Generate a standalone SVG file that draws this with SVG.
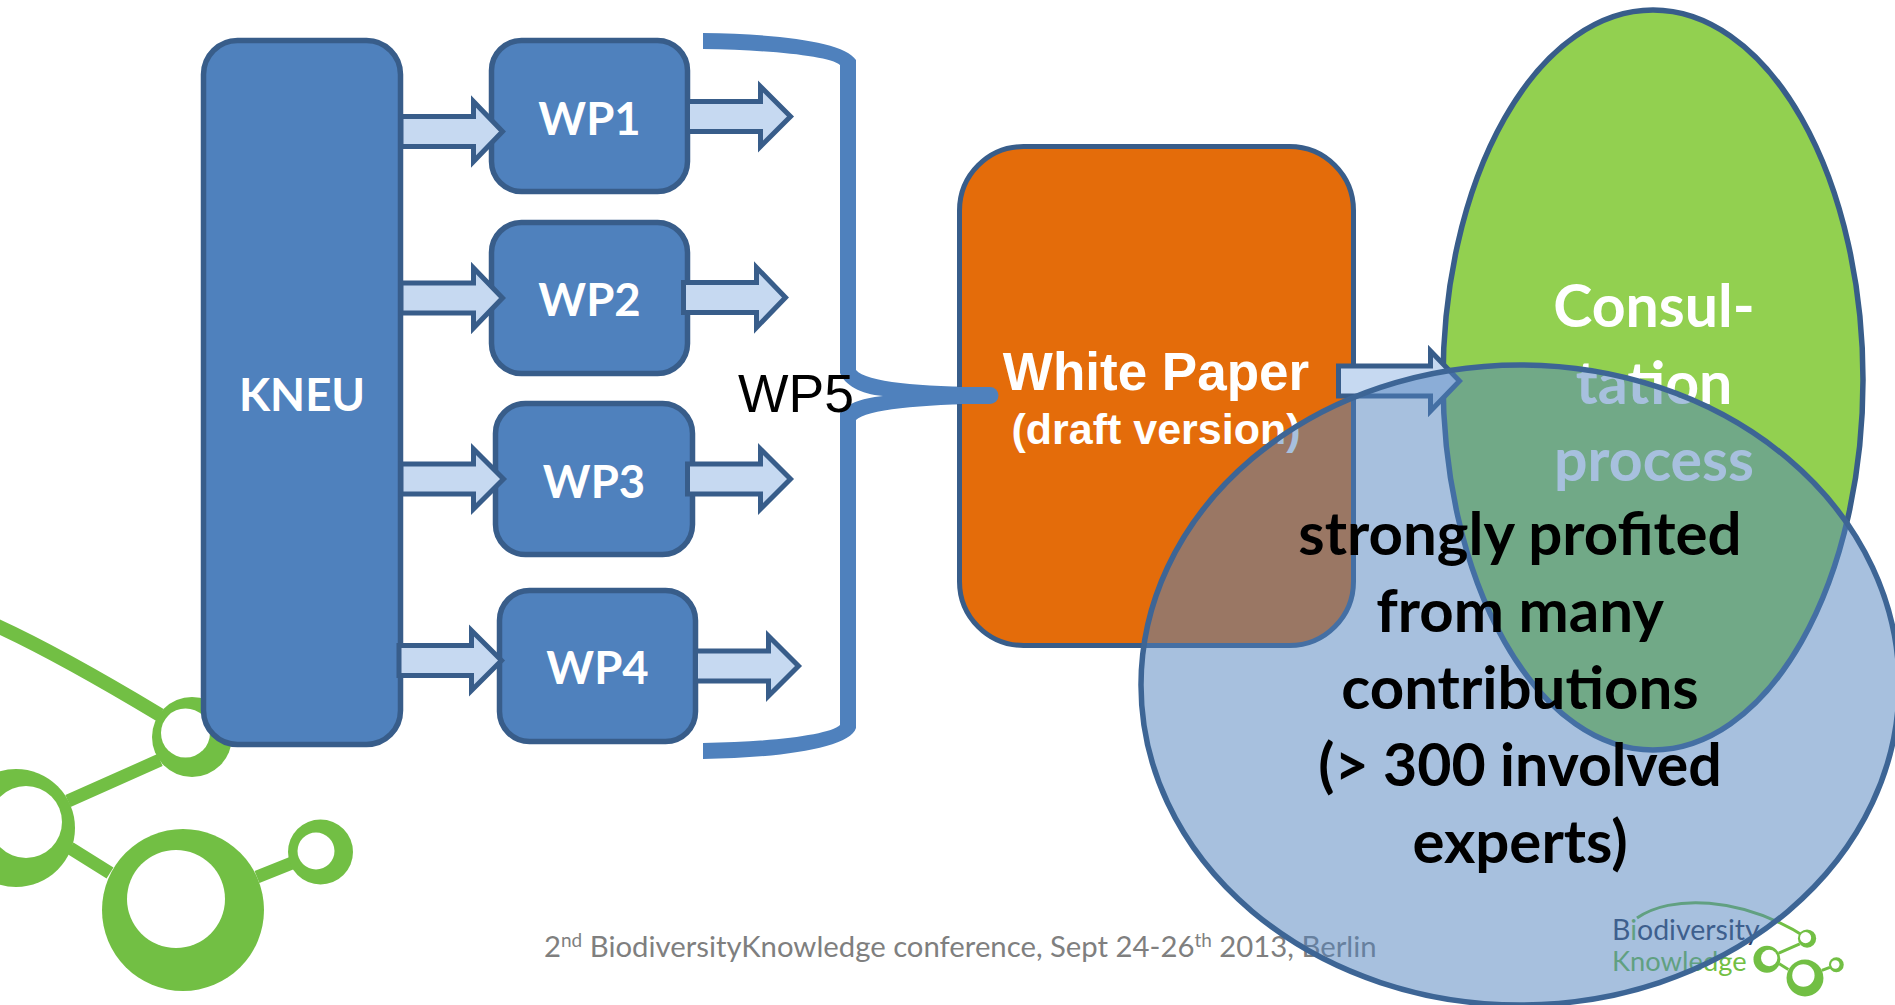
<svg xmlns="http://www.w3.org/2000/svg" xmlns:xlink="http://www.w3.org/1999/xlink" width="1895" height="1005" viewBox="0 0 1895 1005">
<style>
.box{fill:#4f81bd;stroke:#385d8a;stroke-width:5.500}
.arrow{fill:#c6d9f1;stroke:#385d8a;stroke-width:5;stroke-linejoin:miter;stroke-miterlimit:10}
.lb{font-family:"Lato","Open Sans",sans-serif;font-weight:700;font-size:45.500px;fill:#fff;text-anchor:middle}
.cons{font-size:59px}
.blk{font-family:"Lato","Open Sans",sans-serif;font-weight:700;font-size:60px;fill:#000;text-anchor:middle}
.ar{font-family:"Liberation Sans",Arial,sans-serif;font-weight:700;fill:#fff;text-anchor:middle}
.foot{font-family:"Lato","Open Sans",sans-serif;font-size:29.300px;fill:#7f7f7f}
.lg{fill:#72bf44}
.ln{stroke:#72bf44;fill:none}
.hole{fill:#fff}
.bk{font-family:"Lato","Open Sans",sans-serif;font-size:28.500px}
</style>
<defs>
<g id="logoMark">
<path class="ln" stroke-width="13" d="M68 801L160 760M70 848L110 873M257 877L292 863"/>
<circle class="lg" cx="192" cy="737" r="40"/><circle class="hole" cx="185.500" cy="733" r="24.500"/>
<circle class="lg" cx="16" cy="828" r="59"/><circle class="hole" cx="26" cy="822" r="36"/>
<circle class="lg" cx="183" cy="910" r="81"/><circle class="hole" cx="176" cy="899" r="49"/>
<circle class="lg" cx="320.500" cy="852" r="32.500"/><circle class="hole" cx="316" cy="851" r="18.500"/>
</g>
</defs>
<rect width="1895" height="1005" fill="#fff"/>
<g id="logo-large">
<path class="ln" stroke-width="14" d="M-5 625C50 650 110 685 160 715"/>
<use xlink:href="#logoMark" href="#logoMark"/>
</g>
<g id="footer"><text class="foot" x="544" y="957">2<tspan font-size="19" dy="-10">nd</tspan><tspan dy="10"> BiodiversityKnowledge conference, Sept 24-26</tspan><tspan font-size="19" dy="-10">th</tspan><tspan dy="10"> 2013, Berlin</tspan></text></g>
<g id="logo-small">
<path class="ln" stroke-width="3" d="M1637 918C1670 895 1740 895 1807 938"/>
<use xlink:href="#logoMark" href="#logoMark" transform="translate(1763.276 770.520) scale(.228)"/>
<text class="bk" x="1612" y="940" fill="#2d3d5d">B<tspan fill="#72bf44">i</tspan>odiversity</text>
<text class="bk" x="1612" y="971" fill="#72bf44" style="font-size:27.300px">Knowledge</text>
</g>
<g id="KNEU"><rect class="box" x="203.500" y="40.500" width="197" height="704" rx="34"/><text class="lb" x="302" y="411">KNEU</text></g>
<g id="WP1"><rect class="box" x="491.500" y="40.500" width="196" height="151" rx="30"/><text class="lb" x="589.500" y="135">WP1</text></g>
<g id="WP2"><rect class="box" x="491.500" y="222.500" width="196" height="151" rx="30"/><text class="lb" x="589.500" y="316">WP2</text></g>
<g id="WP3"><rect class="box" x="495.500" y="403.500" width="197" height="151" rx="30"/><text class="lb" x="594" y="498">WP3</text></g>
<g id="WP4"><rect class="box" x="499.500" y="590.500" width="196" height="151" rx="30"/><text class="lb" x="597.500" y="684">WP4</text></g>
<g id="WP5">
<path fill="#4f81bd" d="M703 33C780 34 845 42 856 60L856 370C866 382 920 387 990 387A8.500 8.500 0 0 1 990 404C920 404 866 410 856 420L856 728C850 748 780 758 703 759L703 743C770 742 830 735 840 725L840 413C845 405 860 398 883 396C860 394 845 385 840 373L840 65C830 56 770 50 703 49Z"/>
</g>
<g id="WhitePaper"><rect x="959.500" y="146.500" width="394" height="499" rx="64" fill="#e46c0a" stroke="#385d8a" stroke-width="5"/>
<path fill="#4f81bd" d="M955 387L990 387A8.500 8.500 0 0 1 990 404L955 404Z"/>
<text class="ar" x="1156" y="390" font-size="53">White Paper</text><text class="ar" x="1156" y="444" font-size="43">(draft version)</text></g>
<g id="Consultation"><ellipse cx="1653" cy="380" rx="210" ry="370" fill="#92d050" stroke="#385d8a" stroke-width="5.500"/>
<text class="lb cons" x="1654" y="327">Consul-</text><text class="lb cons" x="1654" y="404">tation</text><text class="lb cons" x="1654" y="481">process</text></g>
<g id="connectors">
<path class="arrow" d="M401 116.500H473.500V101.500L502.500 131.500L473.500 161.500V146.500H401Z"/>
<path class="arrow" d="M401 283H473.500V268L502.500 298L473.500 328V313H401Z"/>
<path class="arrow" d="M401 464H473.500V449L503.500 479L473.500 509V494H401Z"/>
<path class="arrow" d="M399 645.500H471.500V630.500L501.500 660.500L471.500 690.500V675.500H399Z"/>
<path class="arrow" d="M687.500 101.500H760.500V86.500L790.500 116.500L760.500 146.500V131.500H687.500Z"/>
<path class="arrow" d="M683.500 282.500H756.500V267.500L785.500 297.500L756.500 327.500V312.500H683.500Z"/>
<path class="arrow" d="M687.500 464H760.500V449L790.500 479L760.500 509V494H687.500Z"/>
<path class="arrow" d="M695.500 651H768.500V636L798.500 666L768.500 696V681H695.500Z"/>
<path class="arrow" d="M1338.500 366H1430.500V351L1459.500 381L1430.500 411V396H1338.500Z"/>
</g>
<g id="Contributions"><ellipse cx="1520" cy="685" rx="379" ry="320" fill="#4f81bd" fill-opacity=".5" stroke="#3d6595" stroke-width="5.500"/>
<text class="blk" x="1520" y="555">strongly profited</text><text class="blk" x="1520" y="632">from many</text><text class="blk" x="1520" y="709">contributions</text><text class="blk" x="1520" y="786" style="font-size:59px">(&gt; 300 involved</text><text class="blk" x="1520" y="863">experts)</text></g>
<text x="738" y="412" font-family="Liberation Sans,Arial,sans-serif" font-size="53.500" fill="#000">WP5</text>
</svg>
